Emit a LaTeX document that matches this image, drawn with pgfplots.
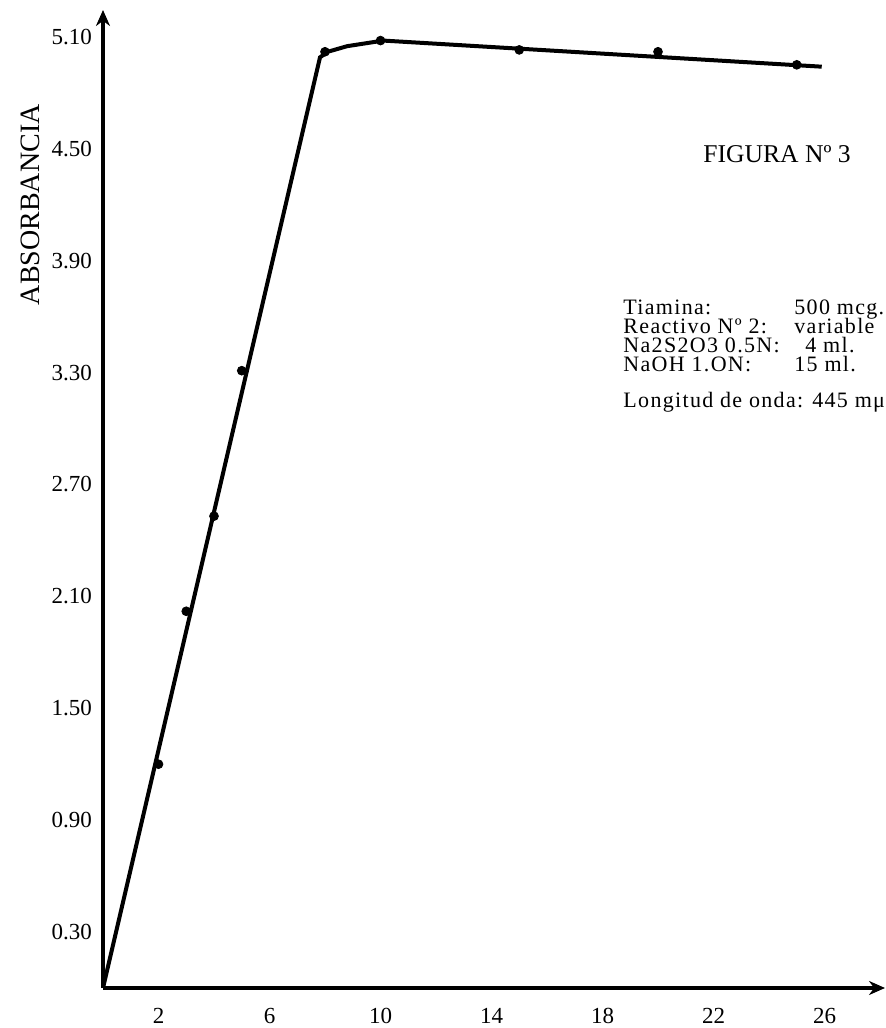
\documentclass[border=0pt]{standalone}
\usepackage{pgfplots}
\pgfplotsset{compat=1.18}
\usepackage{fontspec}
\setmainfont{Liberation Serif}
\newfontfamily\widefont[LetterSpace=6]{Liberation Serif}
\usetikzlibrary{arrows.meta}
\begin{document}
\begin{tikzpicture}
\useasboundingbox (-51.5pt,-20pt) rectangle (391pt,494pt);
\begin{axis}[at={(0,0)}, anchor=south west, scale only axis,
  width=391pt, height=489pt,
  xmin=0, xmax=28.18, ymin=0, ymax=5.244,
  axis lines=left,
  axis line style={line width=1.8pt, -{Stealth[length=8pt,width=7pt]}},
  xtick={2,6,10,14,18,22,26},
  ytick={0.3,0.9,1.5,2.1,2.7,3.3,3.9,4.5,5.1},
  yticklabels={0.30,0.90,1.50,2.10,2.70,3.30,3.90,4.50,5.10},
  major tick length=0pt,
  tick label style={font=\fontsize{11.5}{12}\selectfont},
  /pgf/number format/assume math mode=true,
  yticklabel style={xshift=-2pt},
  xticklabel style={yshift=-6.5pt},
  clip=false]
\addplot[line width=2pt, black] coordinates {
  (0,0) (7.82,4.99) (8.1,5.02) (8.8,5.05) (10.1,5.08) (25.9,4.94)};
\addplot[only marks, mark=*, mark size=2.2pt, black] coordinates {
  (2,1.20) (3,2.02) (4,2.53) (5,3.31) (8,5.02) (10,5.08) (15,5.03) (20,5.02) (25,4.95)};
\node[rotate=90, font=\fontsize{14}{14}\selectfont] at (axis cs:-2.63,4.2) {ABSORBANCIA};
\node[anchor=base west, inner sep=0, font=\fontsize{12.8}{13}\selectfont] at (axis cs:21.62,4.424) {FIGURA Nº 3};
\begin{scope}[every node/.style={anchor=base west, inner sep=0, font=\widefont\fontsize{11}{11}\selectfont}]
\node at (axis cs:18.74,3.609) {Tiamina:};
\node at (axis cs:24.90,3.609) {500 mcg.};
\node at (axis cs:18.74,3.507) {Reactivo Nº 2:};
\node at (axis cs:24.90,3.507) {variable};
\node at (axis cs:18.74,3.405) {Na2S2O3 0.5N:};
\node at (axis cs:24.90,3.405) {\phantom{1}4 ml.};
\node at (axis cs:18.74,3.303) {NaOH 1.ON:};
\node at (axis cs:24.90,3.303) {15 ml.};
\node at (axis cs:18.74,3.110) {Longitud de onda: 445 mμ};
\end{scope}
\end{axis}
\end{tikzpicture}
\end{document}
